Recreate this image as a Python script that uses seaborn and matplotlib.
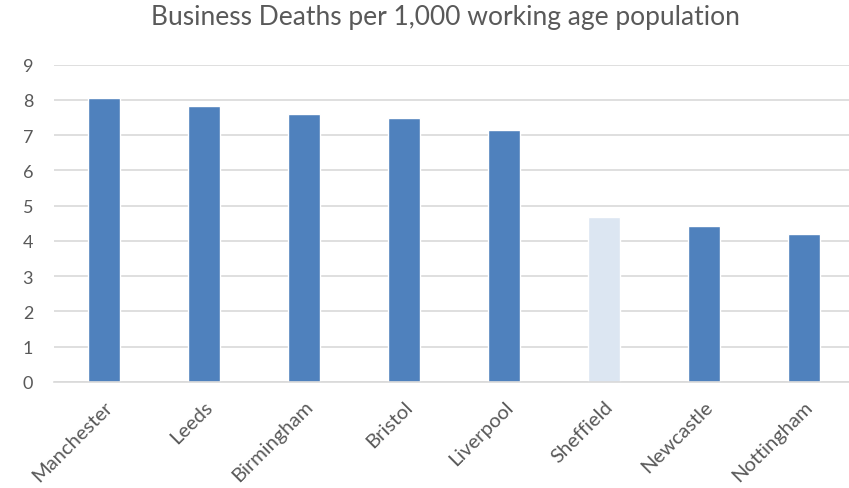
import matplotlib
matplotlib.use("Agg")
import matplotlib.pyplot as plt
import seaborn as sns
import pandas as pd

cities = ["Manchester", "Leeds", "Birmingham", "Bristol", "Liverpool",
          "Sheffield", "Newcastle", "Nottingham"]
deaths = [8.06, 7.83, 7.61, 7.49, 7.16, 4.69, 4.43, 4.19]
yticks = [0, 1, 2, 3, 4, 5, 6, 7, 8, 9]
title = "Business Deaths per 1,000 working age population"

main_color = "#4F81BD"
highlight_color = "#DCE6F2"
bar_colors = [highlight_color if c == "Sheffield" else main_color for c in cities]

sns.set_theme(style="white")
plt.rcParams['font.family'] = ['Lato', 'DejaVu Sans']

df = pd.DataFrame({"city": cities, "value": deaths})

fig = plt.figure(figsize=(8.49, 4.89), dpi=100)
ax = fig.add_axes([54/849, 106/489, (849-54)/849, (383-65.7)/489])

sns.barplot(data=df, x="city", y="value", hue="city",
            palette=dict(zip(cities, bar_colors)), width=0.32,
            legend=False, ax=ax, saturation=1)

ax.set_xlim(-0.5, 7.45)
ax.set_ylim(0, 9)
ax.set_yticks(yticks)
ax.set_yticklabels([str(t) for t in yticks])
ax.yaxis.grid(True, color="#D9D9D9", linewidth=1.2)
ax.set_axisbelow(True)
for s in ["top", "right", "left"]:
    ax.spines[s].set_visible(False)
ax.spines["bottom"].set_color("#D9D9D9")
ax.spines["bottom"].set_linewidth(1.2)
ax.set_xlabel("")
ax.set_ylabel("")
ax.tick_params(axis="y", length=0, pad=15, labelsize=13, labelcolor="#595959")
ax.tick_params(axis="x", length=0, pad=11, labelsize=14.5, labelcolor="#595959")
plt.setp(ax.get_xticklabels(), rotation=45, ha="right", rotation_mode="anchor")

fig.text(445/849, 1 - 18/489, title, ha="center", va="center",
         fontsize=19, color="#595959")

fig.savefig("out.png", dpi=100)
